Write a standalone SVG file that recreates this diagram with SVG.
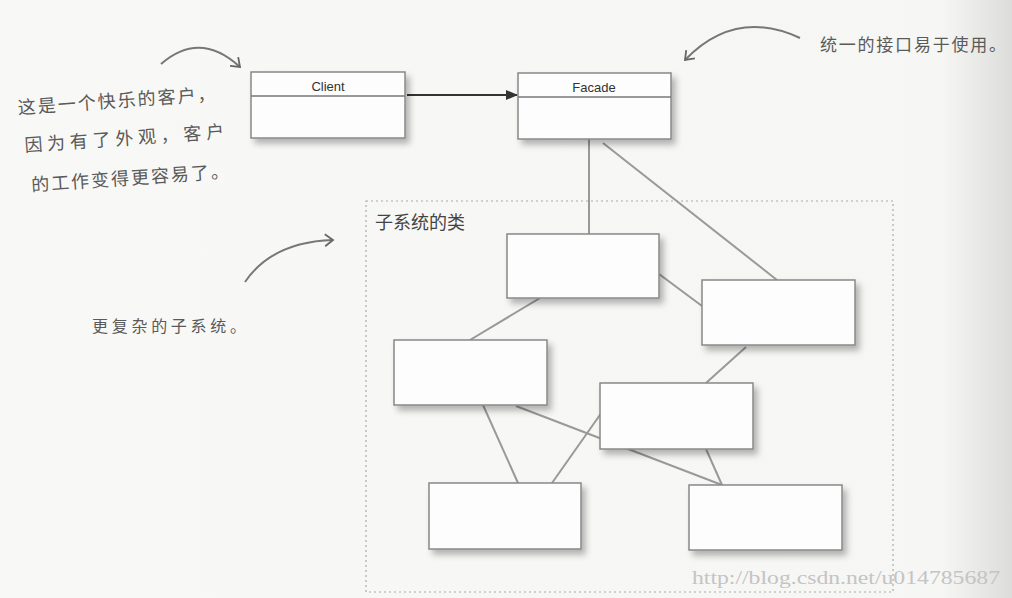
<svg xmlns="http://www.w3.org/2000/svg" width="1012" height="598" viewBox="0 0 1012 598">
<defs>
<linearGradient id="bg" x1="0" y1="0" x2="1" y2="0">
<stop offset="0" stop-color="#f8f8f6"/>
<stop offset="0.93" stop-color="#f6f6f4"/>
<stop offset="0.97" stop-color="#e8e8e6"/>
<stop offset="1" stop-color="#dcdcda"/>
</linearGradient>
<filter id="sh" x="-10%" y="-10%" width="130%" height="140%">
<feDropShadow dx="4" dy="5" stdDeviation="3" flood-color="#000" flood-opacity="0.28"/>
</filter>
<marker id="tri" markerWidth="12" markerHeight="10" refX="11" refY="5" orient="auto" markerUnits="userSpaceOnUse">
<path d="M0,0 L12,5 L0,10 Z" fill="#333"/>
</marker>
<marker id="vee" markerWidth="14" markerHeight="14" refX="10" refY="7" orient="auto" markerUnits="userSpaceOnUse">
<path d="M2,1 L10,7 L2,13" fill="none" stroke="#666" stroke-width="1.8"/>
</marker>
<style>
.box{fill:#fdfdfd;stroke:#888;stroke-width:1.5;filter:url(#sh)}
.hdr{stroke:#777;stroke-width:1.3}
.lbl{font-family:"Liberation Sans",Arial,sans-serif;font-size:13px;fill:#333;text-anchor:middle}
.conn{stroke:#999;stroke-width:2;fill:none}
.hand{font-family:"Noto Sans CJK SC",sans-serif;fill:#5a5a5a}
.curve{stroke:#777;stroke-width:2;fill:none;marker-end:url(#vee)}
</style>
</defs>
<rect width="1012" height="598" fill="url(#bg)"/>

<g id="container">
<rect x="366" y="201" width="527" height="391" fill="none" stroke="#aaa" stroke-width="1.2" stroke-dasharray="2,3"/>
<text x="375" y="229" font-family="'Noto Sans CJK SC',sans-serif" font-size="18" fill="#444">子系统的类</text>
</g>

<g id="connectors">
<line x1="407" y1="95" x2="517" y2="95" stroke="#333" stroke-width="2" marker-end="url(#tri)"/>
<line class="conn" x1="589" y1="139" x2="589" y2="234"/>
<line class="conn" x1="603" y1="143" x2="777" y2="280"/>
<line class="conn" x1="659" y1="274" x2="702" y2="306"/>
<line class="conn" x1="540" y1="298" x2="470" y2="340"/>
<line class="conn" x1="746" y1="347" x2="706" y2="383"/>
<line class="conn" x1="483" y1="405" x2="518" y2="483"/>
<line class="conn" x1="516" y1="406" x2="722" y2="485"/>
<line class="conn" x1="552" y1="483" x2="602" y2="412"/>
<line class="conn" x1="706" y1="449" x2="722" y2="485"/>
</g>

<g id="client">
<rect class="box" x="251" y="72" width="154" height="66"/>
<line class="hdr" x1="251" y1="96" x2="405" y2="96"/>
<text class="lbl" x="328" y="91">Client</text>
</g>
<g id="facade">
<rect class="box" x="518" y="73" width="153" height="66"/>
<line class="hdr" x1="518" y1="97" x2="671" y2="97"/>
<text class="lbl" x="594" y="92">Facade</text>
</g>

<g id="sub1"><rect class="box" x="507" y="234" width="152" height="64"/></g>
<g id="sub2"><rect class="box" x="702" y="280" width="153" height="65"/></g>
<g id="sub3"><rect class="box" x="394" y="340" width="153" height="65"/></g>
<g id="sub4"><rect class="box" x="600" y="383" width="153" height="66"/></g>
<g id="sub5"><rect class="box" x="429" y="483" width="152" height="66"/></g>
<g id="sub6"><rect class="box" x="689" y="485" width="153" height="65"/></g>

<g id="note-client">
<path class="curve" d="M161,64 Q200,30 240,67"/>
<g transform="rotate(-4 20 110)">
<text class="hand" x="18" y="114" font-size="18" textLength="198" lengthAdjust="spacing">这是一个快乐的客户，</text>
<text class="hand" x="22" y="152" font-size="18" textLength="200" lengthAdjust="spacing">因为有了外观，客户</text>
<text class="hand" x="26" y="192" font-size="18" textLength="198" lengthAdjust="spacing">的工作变得更容易了。</text>
</g>
</g>

<g id="note-facade">
<path class="curve" d="M800,38 Q735,8 685,60"/>
<text class="hand" x="820" y="51" font-size="17" textLength="186" lengthAdjust="spacing">统一的接口易于使用。</text>
</g>

<g id="note-subsystem">
<path class="curve" d="M245,282 Q272,242 333,240"/>
<text class="hand" x="92" y="332" font-size="16" textLength="154" lengthAdjust="spacing">更复杂的子系统。</text>
</g>

<text x="692" y="584" font-family="'Liberation Serif',serif" font-size="19" fill="#c4c4c4" textLength="308" lengthAdjust="spacingAndGlyphs">http://blog.csdn.net/u014785687</text>
</svg>
